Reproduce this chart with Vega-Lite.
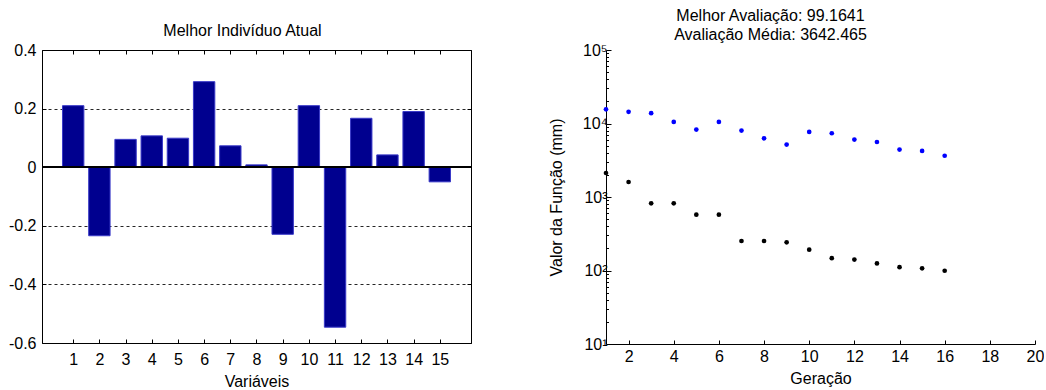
{
  "$schema": "https://vega.github.io/schema/vega-lite/v6.json",
  "padding": {"left": 7, "top": 8, "right": 0, "bottom": 0},
  "background": "white",
  "bounds": "flush",
  "spacing": 135,
  "config": {
    "font": "Liberation Sans",
    "axis": {
      "labelFont": "Liberation Sans",
      "labelFontSize": 16,
      "labelColor": "black",
      "titleFont": "Liberation Sans",
      "titleFontSize": 16,
      "titleFontWeight": "normal",
      "titleColor": "black",
      "domainColor": "black",
      "tickColor": "black",
      "grid": false
    },
    "title": {"font": "Liberation Sans", "fontSize": 16, "fontWeight": "normal", "color": "black"}
  },
  "hconcat": [
    {
      "width": 429,
      "height": 293,
      "view": {"stroke": "black", "strokeWidth": 1},
      "title": {"text": "Melhor Indivíduo Atual", "anchor": "middle", "frame": "group", "baseline": "bottom", "offset": -12.7, "dx": -14},
      "data": {
        "values": [
          {"variavel": 1, "valor": 0.21},
          {"variavel": 2, "valor": -0.234},
          {"variavel": 3, "valor": 0.095},
          {"variavel": 4, "valor": 0.107},
          {"variavel": 5, "valor": 0.099},
          {"variavel": 6, "valor": 0.292},
          {"variavel": 7, "valor": 0.073},
          {"variavel": 8, "valor": 0.008},
          {"variavel": 9, "valor": -0.229},
          {"variavel": 10, "valor": 0.21},
          {"variavel": 11, "valor": -0.546},
          {"variavel": 12, "valor": 0.167},
          {"variavel": 13, "valor": 0.042},
          {"variavel": 14, "valor": 0.19},
          {"variavel": 15, "valor": -0.05}
        ]
      },
      "layer": [
        {
          "mark": {"type": "bar", "orient": "vertical", "width": 21.4, "fill": "#00008F", "stroke": "#3a3ac8", "strokeWidth": 1},
          "encoding": {
            "x": {
              "field": "variavel", "type": "quantitative",
              "scale": {"domain": [0, 16], "nice": false, "zero": false},
              "axis": {"orient": "bottom", "values": [1,2,3,4,5,6,7,8,9,10,11,12,13,14,15], "offset": -4, "tickSize": 4, "labelPadding": 8, "title": "Variáveis", "titlePadding": 6, "domain": false, "labelFlush": false}
            },
            "y": {
              "field": "valor", "type": "quantitative",
              "scale": {"domain": [-0.6, 0.4], "nice": false},
              "axis": {
                "orient": "left", "values": [-0.6, -0.4, -0.2, 0, 0.2, 0.4], "offset": -4, "tickSize": 4, "labelPadding": 6,
                "labelExpr": "datum.value == 0 ? '0' : (datum.value < 0 ? '-' + format(-datum.value, '.1f') : format(datum.value, '.1f'))",
                "grid": true, "gridDash": [3, 3], "gridColor": "black", "gridOpacity": 0.85, "title": null, "domain": false, "labelFlush": false
              }
            }
          }
        },
        {
          "mark": {"type": "rule", "color": "black", "strokeWidth": 1},
          "encoding": {"y": {"datum": 0, "axis": null}}
        },
        {
          "mark": {"type": "point", "opacity": 0},
          "encoding": {
            "x": {
              "field": "variavel", "type": "quantitative",
              "axis": {"orient": "top", "values": [1,2,3,4,5,6,7,8,9,10,11,12,13,14,15], "offset": -4, "tickSize": 4, "labels": false, "domain": false, "title": null}
            },
            "y": {
              "field": "valor", "type": "quantitative",
              "axis": {"orient": "right", "values": [-0.6, -0.4, -0.2, 0, 0.2, 0.4], "offset": -4, "tickSize": 4, "labels": false, "domain": false, "title": null}
            }
          }
        }
      ],
      "resolve": {"axis": {"x": "independent", "y": "independent"}}
    },
    {
      "width": 429,
      "height": 294,
      "view": {"stroke": null},
      "title": {"text": ["Melhor Avaliação: 99.1641", "Avaliação Média: 3642.465"], "anchor": "middle", "frame": "group", "baseline": "bottom", "offset": -17, "dx": -50, "lineHeight": 19},
      "data": {
        "values": [
          {"geracao": 1, "media": 15600, "melhor": 2120},
          {"geracao": 2, "media": 14400, "melhor": 1600},
          {"geracao": 3, "media": 13800, "melhor": 820},
          {"geracao": 4, "media": 10500, "melhor": 820},
          {"geracao": 5, "media": 8260, "melhor": 575},
          {"geracao": 6, "media": 10500, "melhor": 575},
          {"geracao": 7, "media": 8000, "melhor": 252},
          {"geracao": 8, "media": 6290, "melhor": 252},
          {"geracao": 9, "media": 5160, "melhor": 242},
          {"geracao": 10, "media": 7670, "melhor": 192},
          {"geracao": 11, "media": 7370, "melhor": 147},
          {"geracao": 12, "media": 6040, "melhor": 141},
          {"geracao": 13, "media": 5600, "melhor": 125},
          {"geracao": 14, "media": 4420, "melhor": 111},
          {"geracao": 15, "media": 4230, "melhor": 107},
          {"geracao": 16, "media": 3642.465, "melhor": 99.1641}
        ]
      },
      "encoding": {
        "x": {
          "field": "geracao", "type": "quantitative",
          "scale": {"domain": [1, 20], "nice": false, "zero": false},
          "axis": {"orient": "bottom", "values": [2,4,6,8,10,12,14,16,18,20], "tickSize": -4, "labelPadding": 8, "title": "Geração", "titlePadding": 6, "labelFlush": false}
        }
      },
      "layer": [
        {
          "mark": {"type": "circle", "size": 22, "color": "#0000FF", "opacity": 1},
          "encoding": {
            "y": {
              "field": "media", "type": "quantitative",
              "scale": {"type": "log", "domain": [10, 100000], "nice": false},
              "axis": {
                "orient": "left",
                "values": [10,20,30,40,50,60,70,80,90,100,200,300,400,500,600,700,800,900,1000,2000,3000,4000,5000,6000,7000,8000,9000,10000,20000,30000,40000,50000,60000,70000,80000,90000,100000],
                "tickSize": {"condition": {"test": "indexof([10,100,1000,10000,100000], datum.value) >= 0", "value": -5}, "value": -2.5},
                "labelExpr": "indexof([10,100,1000,10000,100000], datum.value) >= 0 ? '10' + ['⁰','¹','²','³','⁴','⁵'][round(log(datum.value) / LN10)] : ''",
                "labelPadding": 4,
                "labelFlush": false,
                "title": "Valor da Função (mm)",
                "titlePadding": 18
              }
            }
          }
        },
        {
          "mark": {"type": "circle", "size": 22, "color": "black", "opacity": 1},
          "encoding": {
            "y": {"field": "melhor", "type": "quantitative"}
          }
        }
      ]
    }
  ]
}
